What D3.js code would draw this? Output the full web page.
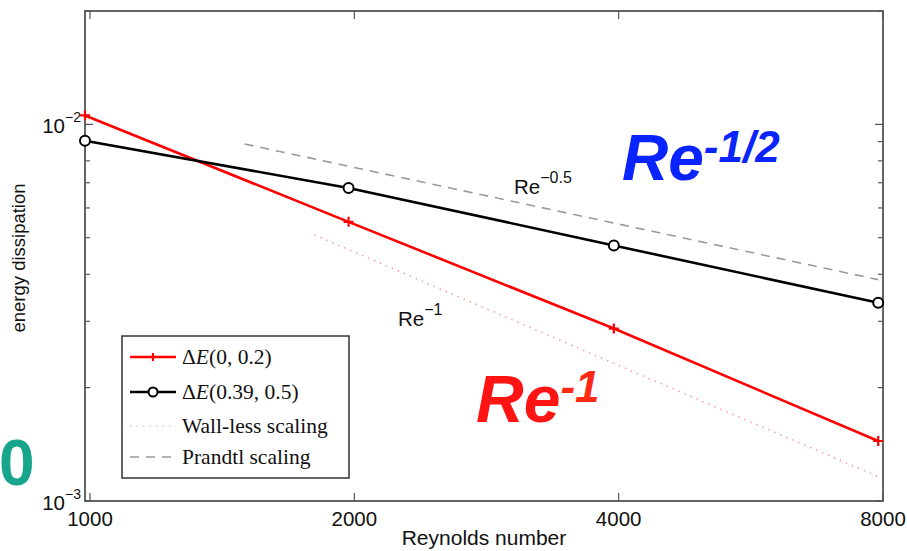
<!DOCTYPE html>
<html>
<head>
<meta charset="utf-8">
<script src="https://cdn.jsdelivr.net/npm/d3@7"></script>
<style>
  html, body { margin: 0; padding: 0; background: #fff; }
  svg { display: block; }
</style>
</head>
<body>
<svg id="chart" width="907" height="551"></svg>
<script>
// Reynolds numbers of the runs
const reynolds = [987, 1970, 3950, 7900];
// Energy dissipation for the two layers
const dissipationA = [0.01056, 0.00551, 0.00287, 0.001443];   // ΔE(0, 0.2)
const dissipationB = [0.00905, 0.00678, 0.00477, 0.00336];    // ΔE(0.39, 0.5)
// Reference scaling lines (end points)
const wallLessRe = [1800, 7900];
const wallLessE = [0.00509, 0.00116];
const prandtlRe = [1500, 7900];
const prandtlE = [0.00887, 0.00387];
// Axis ticks
const xTicks = [1000, 2000, 4000, 8000];
const yMajorTicks = [0.001, 0.01];
const yMinorTicks = [0.002, 0.003, 0.004, 0.005, 0.006, 0.007, 0.008, 0.009, 0.02];
const yTickExponents = ["−3", "−2"];

const svg = d3.select("#chart");
const plotLeft = 85, plotRight = 883, plotTop = 11, plotBottom = 501;

const x = d3.scaleLog().domain([987, 8000]).range([plotLeft, plotRight]);
const y = d3.scaleLog().domain([0.001, 0.02]).range([plotBottom, plotTop]);

const axisColor = "#555";
const sans = "'Liberation Sans', Arial, Helvetica, sans-serif";
const serif = "'Liberation Serif', 'Times New Roman', serif";

// ticks on all four sides, pointing inward
const ticks = svg.append("g").attr("stroke", axisColor).attr("stroke-width", 1.2);
xTicks.forEach(t => {
  ticks.append("line").attr("x1", x(t)).attr("x2", x(t)).attr("y1", plotBottom).attr("y2", plotBottom - 8);
  ticks.append("line").attr("x1", x(t)).attr("x2", x(t)).attr("y1", plotTop).attr("y2", plotTop + 8);
});
yMajorTicks.forEach(t => {
  ticks.append("line").attr("x1", plotLeft).attr("x2", plotLeft + 8).attr("y1", y(t)).attr("y2", y(t));
  ticks.append("line").attr("x1", plotRight).attr("x2", plotRight - 8).attr("y1", y(t)).attr("y2", y(t));
});
yMinorTicks.forEach(t => {
  ticks.append("line").attr("x1", plotLeft).attr("x2", plotLeft + 5).attr("y1", y(t)).attr("y2", y(t));
  ticks.append("line").attr("x1", plotRight).attr("x2", plotRight - 5).attr("y1", y(t)).attr("y2", y(t));
});

// axes box
svg.append("rect")
  .attr("x", plotLeft).attr("y", plotTop)
  .attr("width", plotRight - plotLeft).attr("height", plotBottom - plotTop)
  .attr("fill", "none").attr("stroke", axisColor).attr("stroke-width", 1.8);

// x tick labels
svg.append("g").selectAll("text").data(xTicks).join("text")
  .attr("x", d => x(d)).attr("y", plotBottom + 25)
  .attr("text-anchor", "middle")
  .attr("font-family", sans).attr("font-size", 20.5).attr("fill", "#111")
  .text(d => d);

// y tick labels (powers of ten)
yMajorTicks.forEach((t, i) => {
  const txt = svg.append("text")
    .attr("x", 81).attr("y", y(t) + 9)
    .attr("text-anchor", "end")
    .attr("font-family", sans).attr("fill", "#111");
  txt.append("tspan").attr("font-size", 20.5).text("10");
  txt.append("tspan").attr("font-size", 14).attr("dy", -11).text(yTickExponents[i]);
});

// axis titles
svg.append("text")
  .attr("x", (plotLeft + plotRight) / 2).attr("y", 545)
  .attr("text-anchor", "middle")
  .attr("font-family", sans).attr("font-size", 21).attr("fill", "#111")
  .text("Reynolds number");
svg.append("text")
  .attr("transform", `translate(25,${(plotTop + plotBottom) / 2 + 2}) rotate(-90)`)
  .attr("text-anchor", "middle")
  .attr("font-family", sans).attr("font-size", 18.5).attr("fill", "#111")
  .text("energy dissipation");

const line = d3.line().x(d => x(d[0])).y(d => y(d[1]));

// reference scalings
svg.append("path")
  .datum(d3.zip(prandtlRe, prandtlE))
  .attr("d", line).attr("fill", "none")
  .attr("stroke", "#9a9a9a").attr("stroke-width", 1.6)
  .attr("stroke-dasharray", "9,7");
svg.append("path")
  .datum(d3.zip(wallLessRe, wallLessE))
  .attr("d", line).attr("fill", "none")
  .attr("stroke", "#ff9a9a").attr("stroke-width", 1.5)
  .attr("stroke-dasharray", "1.5,5");

// data series
const red = "#ff0000";
svg.append("path")
  .datum(d3.zip(reynolds, dissipationA))
  .attr("d", line).attr("fill", "none")
  .attr("stroke", red).attr("stroke-width", 2.6);
svg.append("path")
  .datum(d3.zip(reynolds, dissipationB))
  .attr("d", line).attr("fill", "none")
  .attr("stroke", "#000").attr("stroke-width", 2.6);

// markers
svg.append("g").selectAll("path").data(d3.zip(reynolds, dissipationA)).join("path")
  .attr("transform", d => `translate(${x(d[0])},${y(d[1])})`)
  .attr("d", "M-5,0H5M0,-5V5")
  .attr("stroke", red).attr("stroke-width", 2.2);
svg.append("g").selectAll("circle").data(d3.zip(reynolds, dissipationB)).join("circle")
  .attr("cx", d => x(d[0])).attr("cy", d => y(d[1])).attr("r", 5)
  .attr("fill", "#fff").attr("stroke", "#000").attr("stroke-width", 2);

// slope labels
const lbl1 = svg.append("text").attr("x", 514).attr("y", 194)
  .attr("font-family", sans).attr("fill", "#111");
lbl1.append("tspan").attr("font-size", 20.5).text("Re");
lbl1.append("tspan").attr("font-size", 16).attr("dy", -11).text("−0.5");
const lbl2 = svg.append("text").attr("x", 398).attr("y", 326)
  .attr("font-family", sans).attr("fill", "#111");
lbl2.append("tspan").attr("font-size", 20.5).text("Re");
lbl2.append("tspan").attr("font-size", 16).attr("dy", -11).text("−1");

// legend
const lg = svg.append("g");
lg.append("rect").attr("x", 122).attr("y", 336).attr("width", 227).attr("height", 142)
  .attr("fill", "#fff").attr("stroke", "#333").attr("stroke-width", 1.5);
const rows = [357, 392, 426, 457];
lg.append("line").attr("x1", 130).attr("x2", 176).attr("y1", rows[0]).attr("y2", rows[0])
  .attr("stroke", red).attr("stroke-width", 2.6);
lg.append("path").attr("transform", `translate(153,${rows[0]})`).attr("d", "M-4,0H4M0,-4V4")
  .attr("stroke", red).attr("stroke-width", 2.2);
lg.append("line").attr("x1", 130).attr("x2", 176).attr("y1", rows[1]).attr("y2", rows[1])
  .attr("stroke", "#000").attr("stroke-width", 2.6);
lg.append("circle").attr("cx", 153).attr("cy", rows[1]).attr("r", 4.5)
  .attr("fill", "#fff").attr("stroke", "#000").attr("stroke-width", 2);
lg.append("line").attr("x1", 130).attr("x2", 176).attr("y1", rows[2]).attr("y2", rows[2])
  .attr("stroke", "#ff9a9a").attr("stroke-width", 1.2).attr("stroke-dasharray", "1.5,5");
lg.append("line").attr("x1", 130).attr("x2", 176).attr("y1", rows[3]).attr("y2", rows[3])
  .attr("stroke", "#9a9a9a").attr("stroke-width", 1.6).attr("stroke-dasharray", "9,7");

const legendLabels = [
  ["Δ", "E", "(0, 0.2)"],
  ["Δ", "E", "(0.39, 0.5)"],
];
legendLabels.forEach((parts, i) => {
  const t = lg.append("text").attr("x", 182).attr("y", rows[i] + 7)
    .attr("font-family", serif).attr("font-size", 21.5).attr("fill", "#111");
  t.append("tspan").text(parts[0]);
  t.append("tspan").attr("font-style", "italic").text(parts[1]);
  t.append("tspan").text(parts[2]);
});
["Wall-less scaling", "Prandtl scaling"].forEach((s, i) => {
  lg.append("text").attr("x", 182).attr("y", rows[i + 2] + 7)
    .attr("font-family", serif).attr("font-size", 21.5).attr("fill", "#111")
    .text(s);
});

// large scaling annotations
const big1 = svg.append("text").attr("x", 622).attr("y", 180)
  .attr("font-family", sans).attr("font-weight", "bold").attr("font-style", "italic")
  .attr("fill", "#0a24ff");
big1.append("tspan").attr("font-size", 64).text("Re");
big1.append("tspan").attr("font-size", 44).attr("dy", -18).text("-1/2");

const big2 = svg.append("text").attr("x", 476).attr("y", 422)
  .attr("font-family", sans).attr("font-weight", "bold").attr("font-style", "italic")
  .attr("fill", "#ff1414");
big2.append("tspan").attr("font-size", 66).text("Re");
big2.append("tspan").attr("font-size", 44).attr("dy", -20).attr("fill", "#ff2a14").text("-1");

// label at the left edge
svg.append("text").attr("x", -1).attr("y", 485)
  .attr("font-family", sans).attr("font-weight", "bold").attr("font-size", 64)
  .attr("fill", "#17a68c")
  .text("0");
</script>
</body>
</html>
